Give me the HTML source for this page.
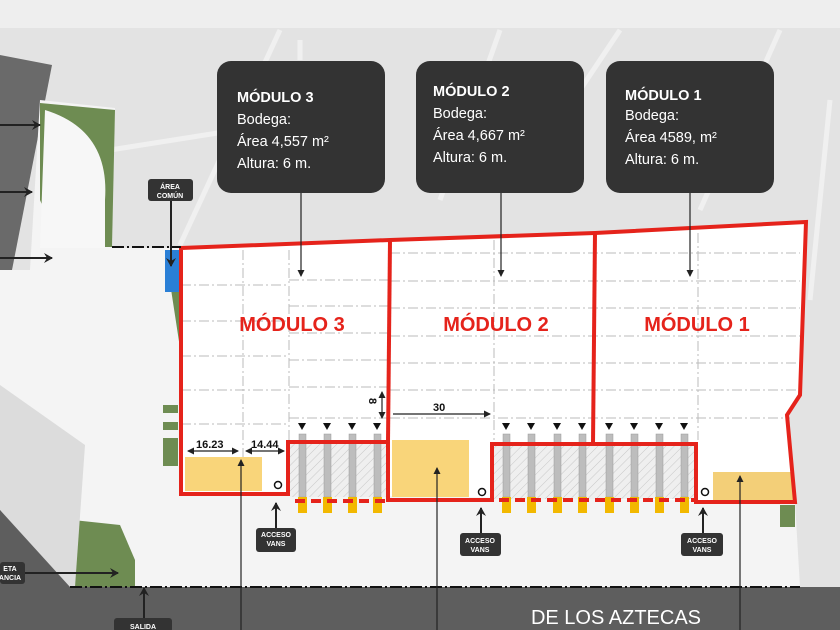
<!DOCTYPE html>
<html><head><meta charset="utf-8"><style>
html,body{margin:0;padding:0;background:#e4e4e4;}
svg{display:block;font-family:"Liberation Sans",sans-serif;}
</style></head><body>
<svg width="840" height="630" viewBox="0 0 840 630" xmlns="http://www.w3.org/2000/svg">
<defs>
<pattern id="h" width="6" height="6" patternUnits="userSpaceOnUse" patternTransform="rotate(45)">
<rect width="6" height="6" fill="#efefef"/><line x1="0" y1="0" x2="0" y2="6" stroke="#c8c8c8" stroke-width="1"/></pattern>
<marker id="a" markerUnits="userSpaceOnUse" markerWidth="7" markerHeight="7" refX="6" refY="3.5" orient="auto-start-reverse"><path d="M0,0 L7,3.5 L0,7 z" fill="#222"/></marker>
<marker id="b" markerUnits="userSpaceOnUse" markerWidth="10" markerHeight="10" refX="8" refY="5" orient="auto"><path d="M0,0 L9,5 L0,10 L3,5 z" fill="#222"/></marker>
</defs>
<rect width="840" height="630" fill="#e3e3e3"/>
<rect width="840" height="28" fill="#eeeeee"/>
<g stroke="#f2f2f2" stroke-width="5" opacity="0.9">
<line x1="180" y1="245" x2="280" y2="30"/><line x1="500" y1="30" x2="440" y2="200"/>
<line x1="620" y1="30" x2="560" y2="120"/><line x1="780" y1="30" x2="700" y2="210"/>
<line x1="110" y1="150" x2="300" y2="120"/><line x1="300" y1="40" x2="300" y2="60"/>
<line x1="830" y1="100" x2="810" y2="300"/>
</g>
<polygon points="0,55 52,65 12,270 0,270" fill="#6a6a6a"/>
<polygon points="40,100 115,108 112,248 181,248 390,240 595,233 806,222 800,395 787,415 795,502 800,587 0,587 0,270 30,270" fill="#f4f4f4"/>
<polygon points="40,103 115,110 112,247 60,247 40,200" fill="#6e8c52"/>
<path d="M45,110 Q110,130 105,200 L105,248 L40,248 Z" fill="#f7f7f7"/>
<polygon points="127,250 165,250 180,348 180,250" fill="#6e8c52"/>
<rect x="165" y="250" width="15" height="42" fill="#2a7fd6"/>
<polygon points="73,520 120,525 135,560 135,587 73,587" fill="#6e8c52"/>
<rect x="163" y="405" width="15" height="8" fill="#6e8c52"/><rect x="163" y="422" width="15" height="8" fill="#6e8c52"/>
<rect x="163" y="438" width="15" height="28" fill="#6e8c52"/><rect x="780" y="505" width="15" height="22" fill="#6e8c52"/>
<polygon points="0,385 85,445 75,587 0,587" fill="#dcdcdc"/>
<polygon points="0,510 70,587 0,587" fill="#5e5e5e"/>
<polygon points="0,510 0,530 60,630 80,630" fill="#5e5e5e"/>
<rect x="0" y="587" width="840" height="43" fill="#5e5e5e"/>
<line x1="70" y1="587" x2="800" y2="587" stroke="#111" stroke-width="2" stroke-dasharray="12,3,2,3"/>
<line x1="112" y1="247" x2="181" y2="247" stroke="#111" stroke-width="2" stroke-dasharray="12,3,2,3"/>
<text x="616" y="624" fill="#fff" font-size="20" text-anchor="middle">DE LOS AZTECAS</text>
<polygon points="181,248 390,240 595,233 806,222 800,395 787,415 795,502 181,493" fill="#fff"/>
<g stroke="#bbb" stroke-width="1" stroke-dasharray="10,3,2,3">
<line x1="243" y1="250" x2="243" y2="490"/><line x1="289" y1="250" x2="289" y2="440"/>
<line x1="494" y1="240" x2="494" y2="440"/><line x1="698" y1="233" x2="698" y2="440"/>
<line x1="181" y1="285" x2="289" y2="285"/><line x1="181" y1="321" x2="289" y2="321"/><line x1="181" y1="356" x2="289" y2="356"/><line x1="181" y1="390" x2="289" y2="390"/><line x1="181" y1="424" x2="289" y2="424"/>
<line x1="289" y1="280" x2="388" y2="280"/><line x1="289" y1="306" x2="388" y2="306"/><line x1="289" y1="333" x2="388" y2="333"/><line x1="289" y1="360" x2="388" y2="360"/><line x1="289" y1="387" x2="388" y2="387"/><line x1="289" y1="418" x2="388" y2="418"/>
<line x1="390" y1="253" x2="800" y2="253"/><line x1="390" y1="281" x2="800" y2="281"/><line x1="390" y1="308" x2="800" y2="308"/><line x1="390" y1="336" x2="800" y2="336"/><line x1="390" y1="363" x2="800" y2="363"/><line x1="390" y1="390" x2="800" y2="390"/><line x1="390" y1="418" x2="790" y2="418"/>
</g>
<rect x="185" y="457" width="77" height="34" fill="#f9d57a"/>
<rect x="392" y="440" width="77" height="57" fill="#f9d57a"/>
<rect x="713" y="472" width="80" height="28" fill="#f3cf78"/>
<rect x="290" y="443" width="96" height="54" fill="url(#h)"/>
<rect x="494" y="445" width="200" height="54" fill="url(#h)"/>
<g fill="#bdbdbd" stroke="#999" stroke-width="0.5">
<rect x="299" y="434" width="7" height="63"/><rect x="324" y="434" width="7" height="63"/><rect x="349" y="434" width="7" height="63"/><rect x="374" y="434" width="7" height="63"/>
<rect x="503" y="434" width="7" height="63"/><rect x="528" y="434" width="7" height="63"/><rect x="554" y="434" width="7" height="63"/><rect x="579" y="434" width="7" height="63"/>
<rect x="606" y="434" width="7" height="63"/><rect x="631" y="434" width="7" height="63"/><rect x="656" y="434" width="7" height="63"/><rect x="681" y="434" width="7" height="63"/>
</g>
<g fill="#f2b800">
<rect x="298" y="497" width="9" height="16"/><rect x="323" y="497" width="9" height="16"/><rect x="348" y="497" width="9" height="16"/><rect x="373" y="497" width="9" height="16"/>
<rect x="502" y="497" width="9" height="16"/><rect x="527" y="497" width="9" height="16"/><rect x="553" y="497" width="9" height="16"/><rect x="578" y="497" width="9" height="16"/>
<rect x="605" y="497" width="9" height="16"/><rect x="630" y="497" width="9" height="16"/><rect x="655" y="497" width="9" height="16"/><rect x="680" y="497" width="9" height="16"/>
</g>
<g fill="#111">
<path d="M298,423h8l-4,7z"/><path d="M323,423h8l-4,7z"/><path d="M348,423h8l-4,7z"/><path d="M373,423h8l-4,7z"/>
<path d="M502,423h8l-4,7z"/><path d="M527,423h8l-4,7z"/><path d="M553,423h8l-4,7z"/><path d="M578,423h8l-4,7z"/>
<path d="M605,423h8l-4,7z"/><path d="M630,423h8l-4,7z"/><path d="M655,423h8l-4,7z"/><path d="M680,423h8l-4,7z"/>
</g>
<line x1="295" y1="501" x2="386" y2="501" stroke="#e5231b" stroke-width="4" stroke-dasharray="10,6"/>
<line x1="499" y1="500" x2="694" y2="500" stroke="#e5231b" stroke-width="4" stroke-dasharray="10,6"/>
<g fill="none" stroke="#e5231b" stroke-width="4" stroke-linejoin="miter">
<polyline points="181,248 390,240 595,233 806,222 800,395 787,415 795,502 696,502 696,444 492,444 492,500 388,500 388,442 288,442 288,494 181,494 181,248"/>
<line x1="390" y1="240" x2="388" y2="442"/><line x1="595" y1="233" x2="593" y2="444"/>
</g>
<g fill="none" stroke="#111" stroke-width="1.5"><circle cx="278" cy="485" r="3.5"/><circle cx="482" cy="492" r="3.5"/><circle cx="705" cy="492" r="3.5"/></g>
<g fill="#e5231b" font-weight="bold" font-size="20" text-anchor="middle">
<text x="292" y="331">MÓDULO 3</text><text x="496" y="331">MÓDULO 2</text><text x="697" y="331">MÓDULO 1</text></g>
<g stroke="#222" stroke-width="1.2" fill="none">
<line x1="188" y1="451" x2="238" y2="451" marker-end="url(#a)" marker-start="url(#a)"/>
<line x1="246" y1="451" x2="284" y2="451" marker-end="url(#a)" marker-start="url(#a)"/>
<line x1="382" y1="392" x2="382" y2="418" marker-end="url(#a)" marker-start="url(#a)"/>
<line x1="393" y1="414" x2="490" y2="414" marker-end="url(#a)"/>
<line x1="241" y1="630" x2="241" y2="460" marker-end="url(#a)"/>
<line x1="437" y1="630" x2="437" y2="468" marker-end="url(#a)"/>
<line x1="740" y1="630" x2="740" y2="476" marker-end="url(#a)"/>
<line x1="301" y1="193" x2="301" y2="276" marker-end="url(#a)"/>
<line x1="501" y1="193" x2="501" y2="276" marker-end="url(#a)"/>
<line x1="690" y1="193" x2="690" y2="276" marker-end="url(#a)"/>
<line x1="171" y1="201" x2="171" y2="266" marker-end="url(#b)" stroke-width="2"/>
<line x1="0" y1="125" x2="40" y2="125" marker-end="url(#b)" stroke-width="2"/>
<line x1="0" y1="192" x2="32" y2="192" marker-end="url(#b)" stroke-width="2"/>
<line x1="0" y1="258" x2="52" y2="258" marker-end="url(#b)" stroke-width="2"/>
<line x1="25" y1="573" x2="118" y2="573" marker-end="url(#b)" stroke-width="2"/>
<line x1="144" y1="618" x2="144" y2="588" marker-end="url(#b)" stroke-width="2"/>
<line x1="276" y1="528" x2="276" y2="503" marker-end="url(#b)" stroke-width="2"/>
<line x1="481" y1="533" x2="481" y2="508" marker-end="url(#b)" stroke-width="2"/>
<line x1="703" y1="533" x2="703" y2="508" marker-end="url(#b)" stroke-width="2"/>
</g>
<g font-weight="bold" font-size="11" fill="#111">
<text x="196" y="448">16.23</text><text x="251" y="448">14.44</text><text x="433" y="411">30</text>
<text x="368" y="405" transform="rotate(90 372 402)">8</text></g>
<g fill="#333"><rect x="217" y="61" width="168" height="132" rx="14"/><rect x="416" y="61" width="168" height="132" rx="14"/><rect x="606" y="61" width="168" height="132" rx="14"/>
<rect x="148" y="179" width="45" height="22" rx="3"/><rect x="256" y="528" width="40" height="24" rx="3"/><rect x="460" y="533" width="41" height="23" rx="3"/><rect x="681" y="533" width="42" height="23" rx="3"/>
<rect x="0" y="562" width="25" height="22" rx="3"/><rect x="114" y="618" width="58" height="14" rx="3"/></g>
<g fill="#fff" font-size="14.5">
<text x="237" y="102"><tspan font-weight="bold">MÓDULO 3</tspan><tspan x="237" dy="22">Bodega:</tspan><tspan x="237" dy="22">Área 4,557 m²</tspan><tspan x="237" dy="22">Altura: 6 m.</tspan></text>
<text x="433" y="96"><tspan font-weight="bold">MÓDULO 2</tspan><tspan x="433" dy="22">Bodega:</tspan><tspan x="433" dy="22">Área 4,667 m²</tspan><tspan x="433" dy="22">Altura: 6 m.</tspan></text>
<text x="625" y="100"><tspan font-weight="bold">MÓDULO 1</tspan><tspan x="625" dy="20">Bodega:</tspan><tspan x="625" dy="22">Área 4589, m²</tspan><tspan x="625" dy="22">Altura: 6 m.</tspan></text>
</g>
<g fill="#fff" font-size="7" font-weight="bold" text-anchor="middle">
<text x="170" y="189">ÁREA</text><text x="170" y="198">COMÚN</text>
<text x="276" y="537">ACCESO</text><text x="276" y="546">VANS</text>
<text x="480" y="543">ACCESO</text><text x="480" y="552">VANS</text>
<text x="702" y="543">ACCESO</text><text x="702" y="552">VANS</text>
<text x="10" y="571">ETA</text><text x="10" y="580">ANCIA</text>
<text x="143" y="629">SALIDA</text>
</g>
</svg>
</body></html>
